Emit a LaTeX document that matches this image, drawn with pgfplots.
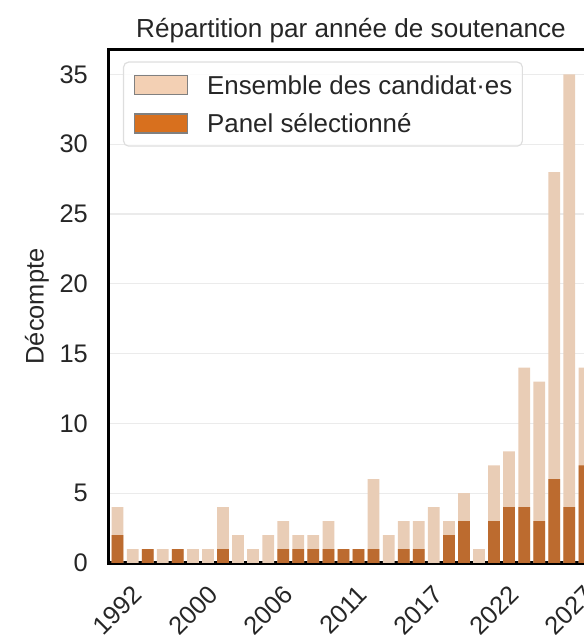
\documentclass[border=0pt]{standalone}
\usepackage{pgfplots}
\pgfplotsset{compat=1.18}
\usepackage{fontspec}
\setmainfont{Liberation Sans}
\definecolor{txt}{HTML}{262626}
\definecolor{lightbar}{HTML}{E9CDB6}
\definecolor{darkbar}{HTML}{BC6B2F}
\definecolor{leglight}{HTML}{F3D0B4}
\definecolor{legdark}{HTML}{D8701E}
\definecolor{gridc}{HTML}{EBEBEB}
\begin{document}
\begin{tikzpicture}
\begin{axis}[
  name=ax,
  at={(0,0)}, anchor=south west,
  scale only axis, width=484bp, height=513bp,
  xmin=-0.57, xmax=31.57, ymin=0, ymax=36.75,
  axis line style={black, line width=3bp},
  ytick={0,5,...,35},
  xtick={0,5,...,30},
  xticklabels={1992,2000,2006,2011,2017,2022,2027},
  major tick length=0pt,
  ymajorgrids, major grid style={gridc, line width=1.3bp},
  /pgf/number format/assume math mode=true,
  tick label style={font=\fontsize{25.5}{30}\selectfont, text=txt},
  yticklabel style={inner sep=0pt, anchor=east, xshift=-21bp},
  xticklabel style={anchor=center, inner sep=0pt, yshift=-47bp, rotate=45},
  ylabel={Décompte},
  every axis y label/.style={at={(axis description cs:0,0.5)}, xshift=-72bp, rotate=90, anchor=center, font=\fontsize{25.5}{30}\selectfont, text=txt},
  title={Répartition par année de soutenance},
  title style={at={(axis description cs:0.5,1)}, anchor=base, yshift=7bp, inner sep=0pt, font=\fontsize{26.2}{30}\selectfont, text=txt},
  legend cell align=left,
  legend style={at={(axis description cs:0,1)}, anchor=north west, xshift=14bp, yshift=-11.5bp,
    draw=black!13, line width=1.2bp, rounded corners=5bp, fill=white, fill opacity=0.8, text opacity=1,
    font=\fontsize{26}{30}\selectfont, text=txt, inner xsep=10bp, inner ysep=12.5bp,
    row sep=18bp, column sep=19bp,
    nodes={inner sep=0pt, text height=19bp, text depth=0bp}},
]
\addlegendimage{legend image code/.code={\draw[sharp corners, fill opacity=1, draw opacity=1, fill=leglight, draw=gray, line width=1.5bp] (0bp,-9.5bp) rectangle (53bp,9.5bp);}}
\addlegendentry{Ensemble des candidat·es}
\addlegendimage{legend image code/.code={\draw[sharp corners, fill opacity=1, draw opacity=1, fill=legdark, draw=gray, line width=1.5bp] (0bp,-9.5bp) rectangle (53bp,9.5bp);}}
\addlegendentry{Panel sélectionné}
\addplot[ybar, bar width=0.78, bar shift=0pt, fill=lightbar, draw=none, forget plot] coordinates {
(0,4) (1,1) (2,1) (3,1) (4,1) (5,1) (6,1) (7,4) (8,2) (9,1) (10,2) (11,3) (12,2) (13,2) (14,3) (15,1)
(16,1) (17,6) (18,2) (19,3) (20,3) (21,4) (22,3) (23,5) (24,1) (25,7) (26,8) (27,14) (28,13) (29,28) (30,35) (31,14)};
\addplot[ybar, bar width=0.78, bar shift=0pt, fill=darkbar, draw=none, forget plot] coordinates {
(0,2) (1,0) (2,1) (3,0) (4,1) (5,0) (6,0) (7,1) (8,0) (9,0) (10,0) (11,1) (12,1) (13,1) (14,1) (15,1)
(16,1) (17,1) (18,0) (19,1) (20,1) (21,0) (22,2) (23,3) (24,0) (25,3) (26,4) (27,4) (28,3) (29,6) (30,4) (31,7)};
\end{axis}
\pgfresetboundingbox
\path[use as bounding box] ([shift={(-109bp,-72bp)}]ax.south west) rectangle ([shift={(475bp,563bp)}]ax.south west);
\end{tikzpicture}
\end{document}
